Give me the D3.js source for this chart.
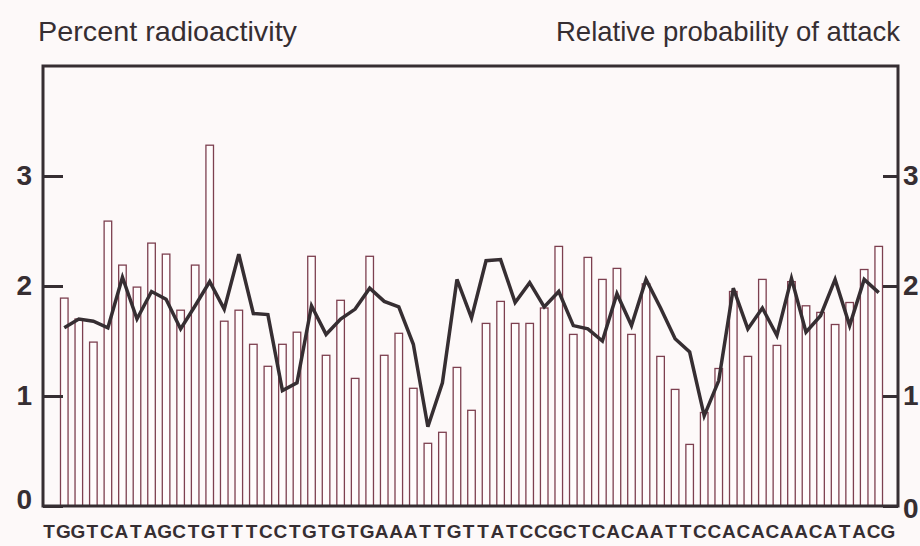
<!DOCTYPE html>
<html>
  <head>
    <title>Radioactivity and attack probability</title>
    <script src="https://d3js.org/d3.v7.min.js"></script>
    <style>
      body { margin: 0; background: #fdf9f9; }
    </style>
  </head>
  <body>
    <svg width="920" height="546"></svg>
    <script>
      // sequence under the bars
      const sequence = "TGGTCATAGCTGTTTCCTGTGTGAAATTGTTATCCGCTCACAATTCCACACAACATACG".split("");

      // percent radioactivity, one bar per position (left axis)
      const radioactivity = [
        1.89, 1.70, 1.49, 2.59, 2.19, 1.99, 2.39, 2.29, 1.78, 2.19,
        3.28, 1.68, 1.78, 1.47, 1.27, 1.47, 1.58, 2.27, 1.37, 1.87,
        1.16, 2.27, 1.37, 1.57, 1.07, 0.57, 0.67, 1.26, 0.87, 1.66,
        1.86, 1.66, 1.66, 1.80, 2.36, 1.56, 2.26, 2.06, 2.16, 1.56,
        2.02, 1.36, 1.06, 0.56, 0.85, 1.25, 1.95, 1.36, 2.06, 1.46,
        2.04, 1.82, 1.76, 1.65, 1.85, 2.15, 2.36
      ];

      // relative probability of attack (right axis)
      const attack = [
        1.62, 1.70, 1.68, 1.62, 2.08, 1.70, 1.95, 1.88, 1.61, 1.82,
        2.04, 1.79, 2.29, 1.75, 1.74, 1.05, 1.12, 1.82, 1.56, 1.70,
        1.79, 1.98, 1.86, 1.81, 1.47, 0.72, 1.12, 2.06, 1.71, 2.23,
        2.24, 1.85, 2.03, 1.81, 1.95, 1.64, 1.61, 1.50, 1.93, 1.64,
        2.06, 1.80, 1.52, 1.40, 0.82, 1.14, 1.98, 1.61, 1.80, 1.55,
        2.07, 1.58, 1.73, 2.06, 1.64, 2.06, 1.94
      ];

      const yTicks = [0, 1, 2, 3];

      const svg = d3.select("svg");
      const frame = {left: 43, right: 898, top: 66, bottom: 506};
      const ink = "#362e32";
      const barInk = "#7d4050";
      const font = "'Liberation Sans', Arial, sans-serif";

      const x = d3.scaleBand()
        .domain(d3.range(radioactivity.length))
        .range([57, 886])
        .paddingInner(0.48)
        .paddingOuter(0.24);
      const y = d3.scaleLinear()
        .domain([0, 4])
        .range([frame.bottom, frame.top]);
      const xLetter = d3.scalePoint()
        .domain(d3.range(sequence.length))
        .range([49, 888]);

      // titles (condensed face in the original)
      svg.append("text")
        .attr("x", 38).attr("y", 41)
        .attr("font-family", font)
        .attr("font-size", 28)
        .attr("textLength", 259)
        .attr("lengthAdjust", "spacingAndGlyphs")
        .attr("fill", ink)
        .text("Percent radioactivity");
      svg.append("text")
        .attr("x", 556).attr("y", 41)
        .attr("font-family", font)
        .attr("font-size", 28)
        .attr("textLength", 344)
        .attr("lengthAdjust", "spacingAndGlyphs")
        .attr("fill", ink)
        .text("Relative probability of attack");

      // bars
      svg.append("g").selectAll("rect")
        .data(radioactivity)
        .join("rect")
          .attr("x", (d, i) => x(i))
          .attr("y", d => y(d))
          .attr("width", x.bandwidth())
          .attr("height", d => y(0) - y(d))
          .attr("fill", "#fffcfc")
          .attr("stroke", barInk)
          .attr("stroke-width", 1.3);

      // attack line
      const line = d3.line()
        .x((d, i) => x(i) + x.bandwidth() / 2)
        .y(d => y(d));
      svg.append("path")
        .datum(attack)
        .attr("d", line)
        .attr("fill", "none")
        .attr("stroke", ink)
        .attr("stroke-width", 3.5);

      // axes
      const left = svg.append("g")
        .attr("transform", `translate(${frame.left},0)`)
        .call(d3.axisLeft(y).tickValues(yTicks).tickSizeInner(-20).tickSizeOuter(0).tickPadding(11).tickFormat(d3.format("d")));
      const right = svg.append("g")
        .attr("transform", `translate(${frame.right},0)`)
        .call(d3.axisRight(y).tickValues(yTicks).tickSizeInner(-15).tickSizeOuter(0).tickPadding(5).tickFormat(d3.format("d")));
      [left, right].forEach(g => {
        g.select(".domain").remove();
        g.selectAll(".tick line").attr("stroke", ink).attr("stroke-width", 3);
        g.selectAll(".tick text")
          .attr("font-family", font)
          .attr("font-size", 28)
          .attr("font-weight", "bold")
          .attr("fill", ink);
      });
      left.selectAll(".tick").filter(d => d === 0).select("text").attr("dy", "0.1em");
      right.selectAll(".tick").filter(d => d === 0).select("text").attr("dy", "0.4em");

      svg.append("rect")
        .attr("x", frame.left).attr("y", frame.top)
        .attr("width", frame.right - frame.left)
        .attr("height", frame.bottom - frame.top)
        .attr("fill", "none")
        .attr("stroke", ink)
        .attr("stroke-width", 3);

      // sequence letters
      svg.append("g").selectAll("text")
        .data(sequence)
        .join("text")
          .attr("x", (d, i) => xLetter(i))
          .attr("y", 538)
          .attr("text-anchor", "middle")
          .attr("font-family", font)
          .attr("font-weight", "bold")
          .attr("font-size", 19)
          .attr("fill", ink)
          .text(d => d);
    </script>
  </body>
</html>
